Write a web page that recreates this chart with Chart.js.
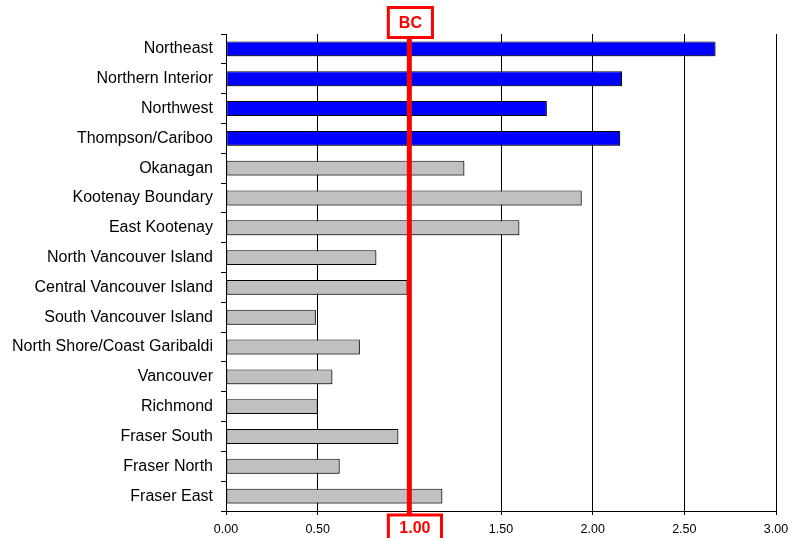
<!DOCTYPE html>
<html>
<head>
<meta charset="utf-8">
<script src="https://cdn.jsdelivr.net/npm/chart.js@4/dist/chart.umd.min.js"></script>
<style>
  html, body { margin: 0; padding: 0; background: #fff; }
  #wrap { width: 791px; height: 538px; position: relative; }
</style>
</head>
<body>
<div id="wrap"><canvas id="chart" width="791" height="538"></canvas></div>
<script>
// Health service delivery areas, top to bottom
const regions = [
  'Northeast', 'Northern Interior', 'Northwest', 'Thompson/Cariboo',
  'Okanagan', 'Kootenay Boundary', 'East Kootenay', 'North Vancouver Island',
  'Central Vancouver Island', 'South Vancouver Island', 'North Shore/Coast Garibaldi',
  'Vancouver', 'Richmond', 'Fraser South', 'Fraser North', 'Fraser East'
];
// Ratio to the provincial rate
const ratios = [
  2.67, 2.16, 1.75, 2.15,
  1.30, 1.94, 1.60, 0.82,
  0.99, 0.49, 0.73,
  0.58, 0.50, 0.94, 0.62, 1.18
];
// Northern areas drawn in the highlight colour
const northernRegions = ['Northeast', 'Northern Interior', 'Northwest', 'Thompson/Cariboo'];
// Provincial reference value
const bcValue = 1.00;
const bcLabel = 'BC';
const xTicks = [0, 0.5, 1, 1.5, 2, 2.5, 3];

const RED = '#ff0000';

const bcLinePlugin = {
  id: 'bcLine',
  afterDatasetsDraw(chart) {
    const { ctx, chartArea, scales } = chart;
    const x = scales.x.getPixelForValue(bcValue);
    ctx.save();
    ctx.font = 'bold 16px "Liberation Sans", Arial, sans-serif';
    ctx.textAlign = 'center';
    ctx.textBaseline = 'middle';

    // top box
    const topW = ctx.measureText(bcLabel).width + 21;
    const topL = x - 21, topT = 7.5, topH = 30;
    // bottom box
    const valText = bcValue.toFixed(2);
    const botW = ctx.measureText(valText).width + 22;
    const botL = x - 21, botT = chartArea.bottom + 4, botH = 32;

    // vertical line
    ctx.strokeStyle = RED;
    ctx.lineWidth = 5;
    ctx.beginPath();
    ctx.moveTo(x, topT + topH);
    ctx.lineTo(x, botT);
    ctx.stroke();

    ctx.lineWidth = 3;
    ctx.fillStyle = '#fff';
    ctx.fillRect(topL, topT, topW, topH);
    ctx.strokeRect(topL, topT, topW, topH);
    ctx.fillRect(botL, botT, botW, botH);
    ctx.strokeRect(botL, botT, botW, botH);

    ctx.fillStyle = RED;
    ctx.fillText(bcLabel, topL + topW / 2, topT + topH / 2 + 1);
    ctx.fillText(valText, botL + botW / 2, chartArea.bottom + 18);
    ctx.restore();
  }
};

const barShadow = {
  id: 'barShadow',
  beforeDatasetDraw(chart) {
    const ctx = chart.ctx;
    ctx.save();
    ctx.shadowColor = 'rgba(0,0,0,0.35)';
    ctx.shadowOffsetX = 1.5;
    ctx.shadowOffsetY = 1.5;
    ctx.shadowBlur = 0;
  },
  afterDatasetDraw(chart) {
    chart.ctx.restore();
  }
};

new Chart(document.getElementById('chart'), {
  type: 'bar',
  data: {
    labels: regions,
    datasets: [{
      data: ratios,
      backgroundColor: regions.map(r => northernRegions.includes(r) ? '#0000ff' : '#c0c0c0'),
      borderColor: '#000',
      borderWidth: 1,
      borderSkipped: false,
      categoryPercentage: 1,
      barPercentage: 0.5
    }]
  },
  options: {
    indexAxis: 'y',
    responsive: false,
    animation: false,
    devicePixelRatio: 1,
    layout: { padding: { top: 34, right: 15, left: 0, bottom: 0 } },
    plugins: {
      legend: { display: false },
      tooltip: { enabled: false }
    },
    scales: {
      x: {
        min: 0,
        max: 3,
        afterBuildTicks(scale) { scale.ticks = xTicks.map(v => ({ value: v })); },
        afterFit(scale) {
          scale.height = 27;
          scale.paddingLeft = 0;
          scale.paddingRight = 0;
        },
        ticks: {
          color: '#000',
          font: { family: '"Liberation Sans", Arial, sans-serif', size: 12.5 },
          padding: 7,
          maxRotation: 0,
          callback: v => (v === bcValue ? '' : Number(v).toFixed(2))
        },
        grid: { color: '#000', lineWidth: 1, tickLength: 4, drawTicks: true },
        border: { color: '#000', width: 1 }
      },
      y: {
        afterFit(scale) { scale.width = 226; },
        ticks: {
          color: '#000',
          font: { family: '"Liberation Sans", Arial, sans-serif', size: 16 },
          padding: 8,
          autoSkip: false
        },
        grid: { color: '#000', drawOnChartArea: false, tickLength: 5, offset: true },
        border: { color: '#000', width: 1 }
      }
    }
  },
  plugins: [barShadow, bcLinePlugin]
});
</script>
</body>
</html>
